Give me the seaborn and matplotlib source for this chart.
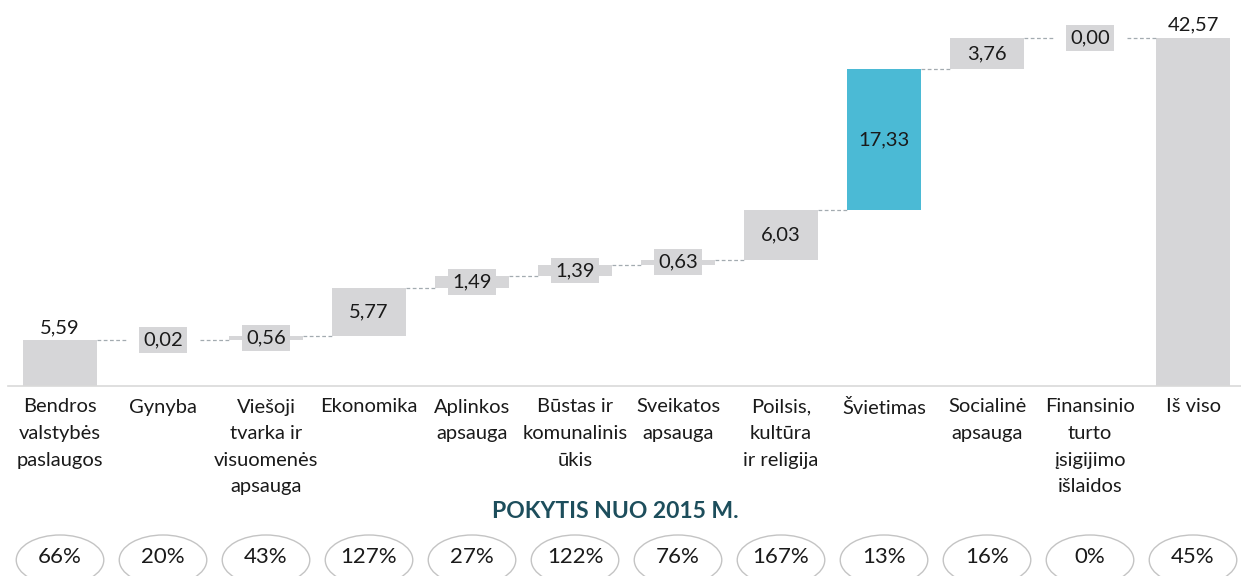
import matplotlib
matplotlib.use("Agg")
import matplotlib.pyplot as plt
from matplotlib.patches import Ellipse
import pandas as pd
import seaborn as sns

# Budget change by function (waterfall), values in mln
categories = [
    "Bendros\nvalstybės\npaslaugos",
    "Gynyba",
    "Viešoji\ntvarka ir\nvisuomenės\napsauga",
    "Ekonomika",
    "Aplinkos\napsauga",
    "Būstas ir\nkomunalinis\nūkis",
    "Sveikatos\napsauga",
    "Poilsis,\nkultūra\nir religija",
    "Švietimas",
    "Socialinė\napsauga",
    "Finansinio\nturto\nįsigijimo\nišlaidos",
    "Iš viso",
]
values = [5.59, 0.02, 0.56, 5.77, 1.49, 1.39, 0.63, 6.03, 17.33, 3.76, 0.00, 42.57]
change_pct = [66, 20, 43, 127, 27, 122, 76, 167, 13, 16, 0, 45]
is_total = [True] + [False] * 10 + [True]
highlight = "Švietimas"
subtitle = "POKYTIS NUO 2015 M."

GREY = "#D6D6D8"
BLUE = "#4BBAD5"
TITLE_C = "#1D4E5C"
CONN_C = "#A3ABB0"

sns.set_style("white")
plt.rcParams["font.family"] = ["Lato", "DejaVu Sans"]

# waterfall bases
bottoms, running = [], 0.0
for v, tot in zip(values, is_total):
    if tot:
        bottoms.append(0.0)
        running = v
    else:
        bottoms.append(running)
        running += v
ends = [b + v for b, v in zip(bottoms, values)]

df = pd.DataFrame({"cat": categories, "val": values})
colors = [BLUE if c == highlight else GREY for c in categories]

W, H = 1241, 576
fig = plt.figure(figsize=(W / 100, H / 100), dpi=100)
ax = fig.add_axes([8 / W, 190 / H, 1233 / W, 386 / H])

bar_w = 0.71
sns.barplot(data=df, x="cat", y="val", order=categories, color=GREY,
            width=bar_w, errorbar=None, bottom=bottoms, linewidth=0, ax=ax)
for patch, c in zip(ax.patches, colors):
    patch.set_facecolor(c)
    patch.set_edgecolor("none")

ax.set_xlim(-0.505, 11.466)
ax.set_ylim(0, 47.22)

# dashed connectors between consecutive bars
for i in range(len(values) - 1):
    ax.plot([i + bar_w / 2, i + 1 - bar_w / 2], [ends[i], ends[i]],
            ls=(0, (3, 2)), lw=0.9, color=CONN_C, zorder=1)

# value labels
for i, (v, b, e, tot, c) in enumerate(zip(values, bottoms, ends, is_total, colors)):
    txt = f"{v:.2f}".replace(".", ",")
    if tot:
        ax.annotate(txt, (i, e), xytext=(0, 3), textcoords="offset points",
                    ha="center", va="bottom", fontsize=14.5, color="#1a1a1a")
    else:
        ax.text(i, b + v / 2, txt, ha="center", va="center", fontsize=14.5,
                color="#1a1a1a", zorder=4,
                bbox=dict(boxstyle="square,pad=0.22", fc=c, ec="none"))

sns.despine(ax=ax, left=True)
ax.spines["bottom"].set_color("#D9D9D9")
ax.spines["bottom"].set_linewidth(1.2)
ax.set_yticks([])
ax.set_xlabel("")
ax.set_ylabel("")
ax.set_xticks(range(len(categories)))
ax.set_xticklabels(categories, fontsize=14.5, linespacing=1.68, color="#1a1a1a")
ax.tick_params(axis="x", length=0, pad=9)

fig.text(0.496, 1 - 512 / H, subtitle, ha="center", va="center",
         fontsize=16.5, fontweight="bold", color=TITLE_C)

# change-since-2015 ovals
ax2 = fig.add_axes([8 / W, 0, 1233 / W, 70 / H])
ax2.set_xlim(-0.505, 11.466)
ax2.set_ylim(0, 70)
ax2.axis("off")
for i, p in enumerate(change_pct):
    ax2.add_patch(Ellipse((i, 16), width=0.85, height=50, fc="white",
                          ec="#C4C4C4", lw=1.0, clip_on=False))
    ax2.text(i, 19, f"{p}%", ha="center", va="center", fontsize=16,
             color="#1a1a1a")

fig.savefig("out.png", dpi=100, facecolor="white")
